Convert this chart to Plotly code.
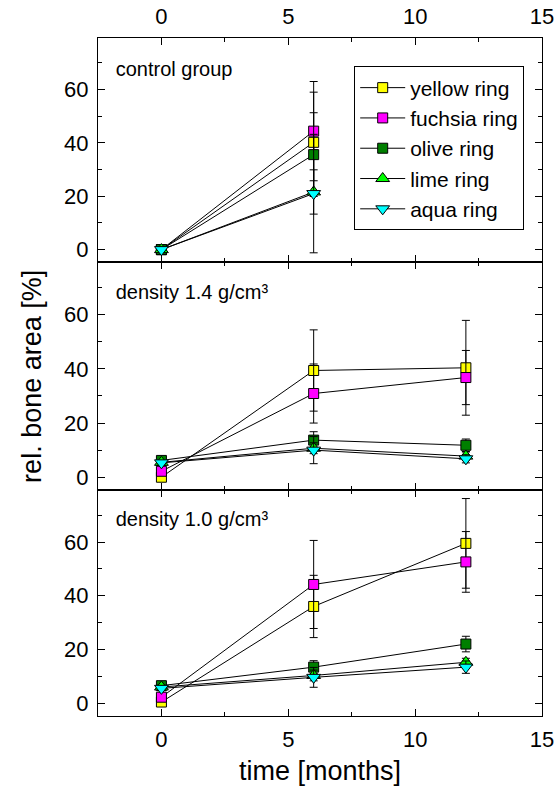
import plotly.graph_objects as go

# ---------------- data ----------------
times_control = [0, 6]
times = [0, 6, 12]

series_names = ["yellow ring", "fuchsia ring", "olive ring", "lime ring", "aqua ring"]

# control group
ctrl_yellow = [0, 40.2]
ctrl_yellow_err = [0, 18.8]
ctrl_fuchsia = [0, 44.4]
ctrl_fuchsia_err = [0, 18.6]
ctrl_olive = [0, 35.6]
ctrl_olive_err = [0, 15.7]
ctrl_lime = [0, 21.6]
ctrl_lime_err = [0, 8.3]
ctrl_aqua = [0, 21.0]
ctrl_aqua_err = [0, 22.2]

# density 1.4 g/cm3
d14_yellow = [0.0, 39.4, 40.4]
d14_yellow_err = [0.8, 15.0, 17.5]
d14_fuchsia = [2.2, 30.9, 36.8]
d14_fuchsia_err = [0.8, 10.9, 10.0]
d14_olive = [6.2, 13.7, 11.8]
d14_olive_err = [0.8, 3.1, 2.3]
d14_lime = [5.5, 10.7, 7.8]
d14_lime_err = [0.8, 2.0, 1.5]
d14_aqua = [5.3, 10.0, 6.8]
d14_aqua_err = [0.8, 5.0, 1.5]

# density 1.0 g/cm3
d10_yellow = [0.4, 36.0, 59.5]
d10_yellow_err = [0.8, 11.6, 16.7]
d10_fuchsia = [2.2, 44.2, 52.6]
d10_fuchsia_err = [0.8, 16.4, 11.3]
d10_olive = [6.5, 13.4, 22.0]
d10_olive_err = [0.8, 2.4, 2.9]
d10_lime = [6.0, 10.3, 15.2]
d10_lime_err = [0.8, 2.0, 1.5]
d10_aqua = [5.5, 9.6, 13.4]
d10_aqua_err = [0.8, 3.7, 2.3]

panel_labels = ["control group", "density 1.4 g/cm³", "density 1.0 g/cm³"]
x_title = "time [months]"
y_title = "rel. bone area [%]"

# ---------------- styles ----------------
colors = ["#FFFF00", "#FF00FF", "#007F00", "#00FF00", "#00FFFF"]
symbols = ["square", "square", "square", "triangle-up", "triangle-down"]
sizes = [10, 10, 10, 12, 12]
FONT = "Liberation Sans, Arial, sans-serif"

panels = [
    ("x3", "y3", times_control,
     [ctrl_yellow, ctrl_fuchsia, ctrl_olive, ctrl_lime, ctrl_aqua],
     [ctrl_yellow_err, ctrl_fuchsia_err, ctrl_olive_err, ctrl_lime_err, ctrl_aqua_err]),
    ("x2", "y2", times,
     [d14_yellow, d14_fuchsia, d14_olive, d14_lime, d14_aqua],
     [d14_yellow_err, d14_fuchsia_err, d14_olive_err, d14_lime_err, d14_aqua_err]),
    ("x", "y", times,
     [d10_yellow, d10_fuchsia, d10_olive, d10_lime, d10_aqua],
     [d10_yellow_err, d10_fuchsia_err, d10_olive_err, d10_lime_err, d10_aqua_err]),
]

fig = go.Figure()
for pi, (xa, ya, tx, vals, errs) in enumerate(panels):
    for si in range(5):
        fig.add_trace(go.Scatter(
            x=tx, y=vals[si], xaxis=xa, yaxis=ya,
            mode="lines+markers",
            name=series_names[si],
            showlegend=(pi == 0),
            line=dict(color="black", width=1),
            marker=dict(symbol=symbols[si], size=sizes[si], color=colors[si],
                        line=dict(color="black", width=1)),
            error_y=dict(type="data", array=errs[si], visible=True,
                         color="black", thickness=1, width=4),
        ))

# panel labels as text placed in each panel's upper-left corner
label_pos_y = [66.9, 67.7, 68.0]
for (xa, ya, _, _, _), txt, ly in zip(panels, panel_labels, label_pos_y):
    fig.add_trace(go.Scatter(
        x=[-1.8], y=[ly], xaxis=xa, yaxis=ya, mode="text", text=[txt],
        textposition="middle right", showlegend=False, hoverinfo="skip",
        cliponaxis=False,
        textfont=dict(family=FONT, size=20, color="black"),
    ))

base = dict(showline=True, linecolor="black", linewidth=1, mirror="ticks",
            ticks="inside", ticklen=7, tickwidth=1, tickcolor="black",
            showgrid=False, zeroline=False, ticklabelstandoff=4,
            tickfont=dict(family=FONT, size=22, color="black"))


def ax(**kw):
    d = dict(base)
    d.update(kw)
    return d


yr = [-4.8, 79.3]
xr = [-2.5, 15]
yminor = dict(ticks="inside", ticklen=4, dtick=10, tickcolor="black")
xminor = dict(ticks="inside", ticklen=4, dtick=2.5, tickcolor="black")

y3 = ax(range=yr, tick0=0, dtick=20, anchor="x3", domain=[0.669, 1.0], automargin=False,
        minor=yminor)
y2 = ax(range=yr, tick0=0, dtick=20, anchor="x2", domain=[0.333, 0.669], automargin=False,
        minor=yminor,
        title=dict(text=y_title, font=dict(family=FONT, size=27, color="black"), standoff=14))
y1 = ax(range=yr, tick0=0, dtick=20, anchor="x", domain=[0.0, 0.333], automargin=False,
        minor=yminor)
x3 = ax(range=xr, tick0=0, dtick=5, anchor="y3", side="top", automargin=False,
        minor=xminor)
x2 = ax(range=xr, tick0=0, dtick=5, anchor="y2", automargin=False,
        showticklabels=False, minor=xminor)
x1 = ax(range=xr, tick0=0, dtick=5, anchor="y", automargin=False,
        minor=xminor,
        title=dict(text=x_title, font=dict(family=FONT, size=27, color="black"), standoff=30))

fig.update_layout(
    width=556, height=786,
    margin=dict(l=98, r=14, t=38, b=70, autoexpand=False),
    paper_bgcolor="white", plot_bgcolor="white",
    showlegend=True,
    legend=dict(x=0.577, y=0.958, xanchor="left", yanchor="top",
                bordercolor="black", borderwidth=1, bgcolor="white",
                font=dict(family=FONT, size=21, color="black"),
                itemwidth=45, tracegroupgap=0),
    xaxis=x1, xaxis2=x2, xaxis3=x3, yaxis=y1, yaxis2=y2, yaxis3=y3,
)

fig.write_html(
    "out.html",
    config={"displayModeBar": False},
    post_script="document.body.style.margin='0';"
                "document.body.style.overflow='hidden';"
                "document.documentElement.style.overflow='hidden';",
)
